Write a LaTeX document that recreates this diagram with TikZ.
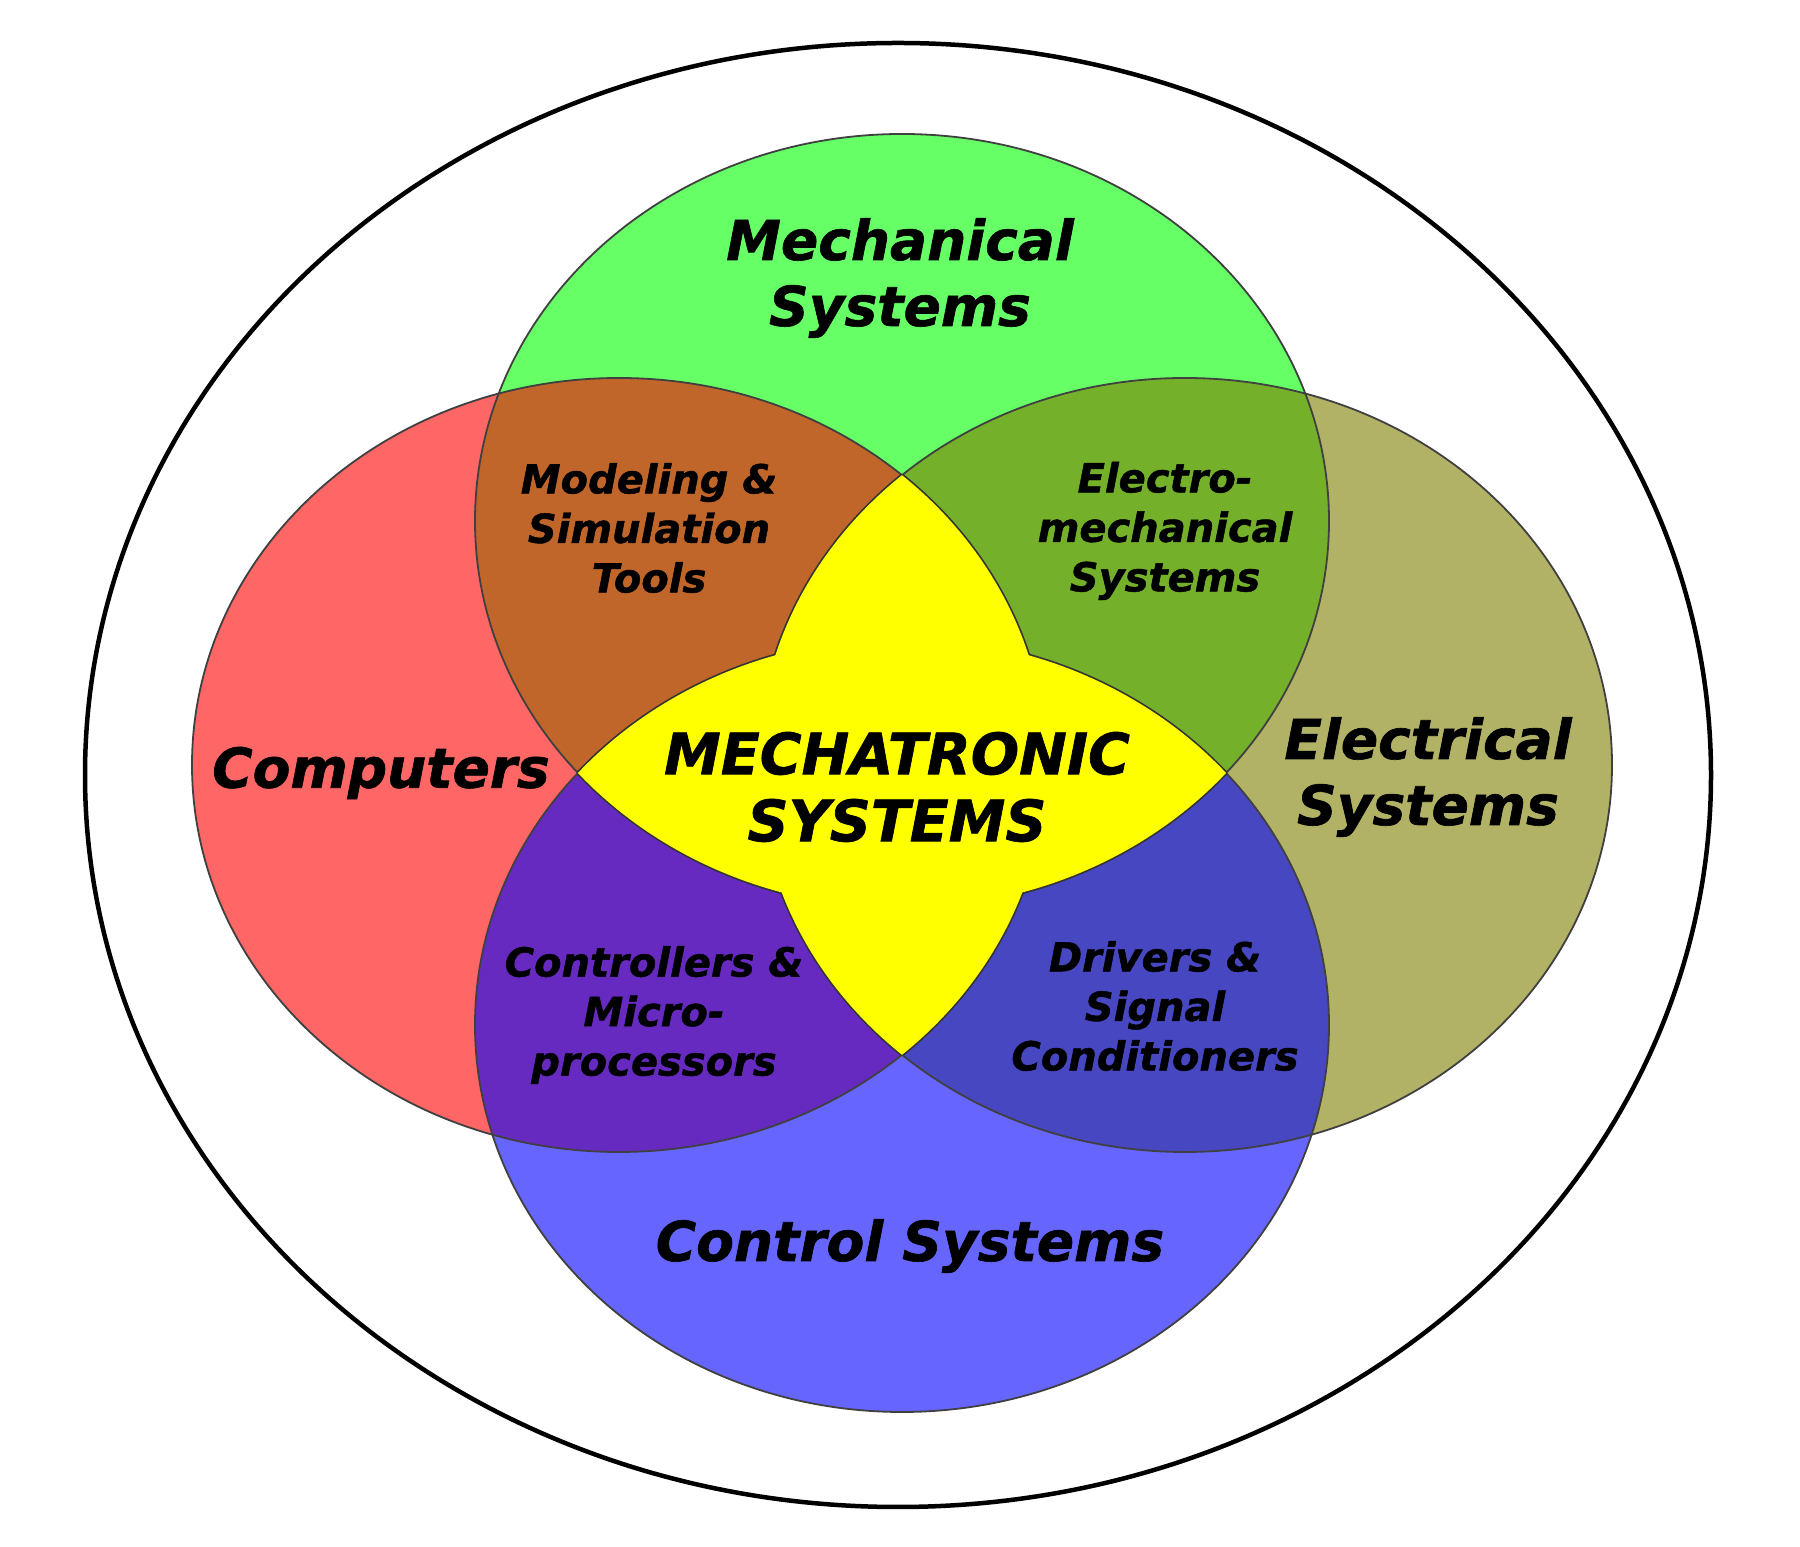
\documentclass[tikz,border=0pt]{standalone}
\usepackage{fontspec}
\setmainfont{DejaVu Sans}[BoldItalicFeatures={FakeBold=1.2}]
\definecolor{cRed}{RGB}{255,102,102}
\definecolor{cGreen}{RGB}{102,255,102}
\definecolor{cOlive}{RGB}{178,178,102}
\definecolor{cBlue}{RGB}{102,102,255}
\definecolor{cBrown}{RGB}{193,102,42}
\definecolor{cOlgr}{RGB}{117,176,42}
\definecolor{cPurple}{RGB}{102,42,193}
\definecolor{cDkblue}{RGB}{71,71,193}
\definecolor{cYellow}{RGB}{255,255,0}
\begin{document}
\begin{tikzpicture}[x=1pt,y=1pt,
  biglabel/.style={font=\fontsize{55}{66}\selectfont\bfseries\itshape, align=center, inner sep=0pt, text=black},
  smalllabel/.style={font=\fontsize{40}{49.5}\selectfont\bfseries\itshape, align=center, inner sep=0pt, text=black},
  rim/.style={draw=black!75, line width=1.8pt},
  starrim/.style={draw=black!80, line width=3.4pt}]
\def\Tp{(902,1026) ellipse (427pt and 387pt)}
\def\Lp{(619,782) ellipse (427pt and 387pt)}
\def\Rp{(1185,782) ellipse (427pt and 387pt)}
\def\Bp{(902,522) ellipse (427pt and 387pt)}
\useasboundingbox (0,0) rectangle (1800,1547);
\fill[white] (0,0) rectangle (1800,1547);
% outer ellipse
\draw[line width=4.5pt] (898,772) ellipse (813pt and 732pt);
% base fills
\fill[cRed] \Lp;
\fill[cOlive] \Rp;
\fill[cGreen] \Tp;
\fill[cBlue] \Bp;
% pairwise overlaps
\begin{scope}\clip \Tp; \fill[cBrown] \Lp; \fill[cOlgr] \Rp; \end{scope}
\begin{scope}\clip \Bp; \fill[cPurple] \Lp; \fill[cDkblue] \Rp; \end{scope}
% outlines
\draw[rim] \Lp;
\draw[rim] \Rp;
\draw[rim] \Tp;
\draw[rim] \Bp;
% star outline (outer half survives the fill)
\begin{scope}\clip \Lp; \draw[starrim] \Rp; \end{scope}
\begin{scope}\clip \Rp; \draw[starrim] \Lp; \end{scope}
\begin{scope}\clip \Tp; \draw[starrim] \Bp; \end{scope}
\begin{scope}\clip \Bp; \draw[starrim] \Tp; \end{scope}
% star fill
\begin{scope}\clip \Lp; \fill[cYellow] \Rp; \end{scope}
\begin{scope}\clip \Tp; \fill[cYellow] \Bp; \end{scope}
% labels
\node[biglabel] (mech) at (900,1269) {Mechanical\\Systems};
\node[biglabel] (comp) at (381,774) {Computers};
\node[biglabel] (elec) at (1428,770) {Electrical\\Systems};
\node[biglabel] (ctrl) at (910,301) {Control Systems};
\node[biglabel, font=\fontsize{57}{67}\selectfont\bfseries\itshape] (mecha) at (897,760) {MECHATRONIC\\SYSTEMS};
\node[smalllabel] (model) at (649,1019) {Modeling \&\\Simulation\\Tools};
\node[smalllabel] (emech) at (1165,1016) {Electro-\\mechanical\\Systems};
\node[smalllabel] (contr) at (654,532) {Controllers \&\\Micro-\\processors};
\node[smalllabel] (driv) at (1155,541) {Drivers \&\\Signal\\Conditioners};
\end{tikzpicture}
\end{document}
